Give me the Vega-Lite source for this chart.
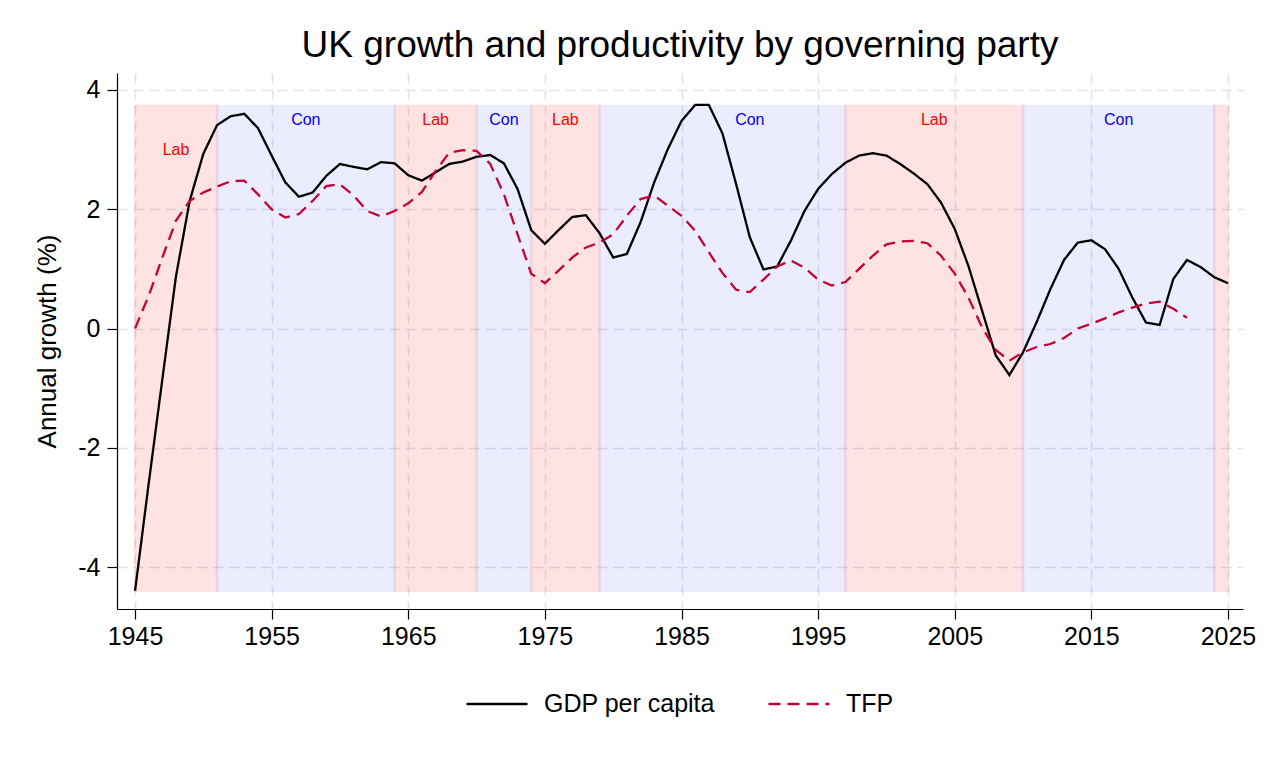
{
  "$schema": "https://vega.github.io/schema/vega-lite/v6.json",
  "width": 1126,
  "height": 536,
  "autosize": {"type": "none"},
  "padding": {"left": 117, "top": 73, "right": 28, "bottom": 153},
  "title": {
    "text": "UK growth and productivity by governing party",
    "fontSize": 37,
    "fontWeight": "normal",
    "color": "black",
    "offset": 8
  },
  "datasets": {
    "periods": [
      {"start": 1945, "end": 1951, "party": "Lab"},
      {"start": 1951, "end": 1964, "party": "Con"},
      {"start": 1964, "end": 1970, "party": "Lab"},
      {"start": 1970, "end": 1974, "party": "Con"},
      {"start": 1974, "end": 1979, "party": "Lab"},
      {"start": 1979, "end": 1997, "party": "Con"},
      {"start": 1997, "end": 2010, "party": "Lab"},
      {"start": 2010, "end": 2024, "party": "Con"},
      {"start": 2024, "end": 2025, "party": "Lab"}
    ],
    "labels": [
      {"year": 1948, "value": 3.0, "party": "Lab"},
      {"year": 1957.5, "value": 3.5, "party": "Con"},
      {"year": 1967, "value": 3.5, "party": "Lab"},
      {"year": 1972, "value": 3.5, "party": "Con"},
      {"year": 1976.5, "value": 3.5, "party": "Lab"},
      {"year": 1990, "value": 3.5, "party": "Con"},
      {"year": 2003.5, "value": 3.5, "party": "Lab"},
      {"year": 2017, "value": 3.5, "party": "Con"}
    ],
    "growth": [
      {"year": 1945, "series": "GDP per capita", "growth": -4.4},
      {"year": 1946, "series": "GDP per capita", "growth": -2.6},
      {"year": 1947, "series": "GDP per capita", "growth": -0.85},
      {"year": 1948, "series": "GDP per capita", "growth": 0.88},
      {"year": 1949, "series": "GDP per capita", "growth": 2.14},
      {"year": 1950, "series": "GDP per capita", "growth": 2.93},
      {"year": 1951, "series": "GDP per capita", "growth": 3.41},
      {"year": 1952, "series": "GDP per capita", "growth": 3.56},
      {"year": 1953, "series": "GDP per capita", "growth": 3.6},
      {"year": 1954, "series": "GDP per capita", "growth": 3.36},
      {"year": 1955, "series": "GDP per capita", "growth": 2.9},
      {"year": 1956, "series": "GDP per capita", "growth": 2.45},
      {"year": 1957, "series": "GDP per capita", "growth": 2.21},
      {"year": 1958, "series": "GDP per capita", "growth": 2.28},
      {"year": 1959, "series": "GDP per capita", "growth": 2.56},
      {"year": 1960, "series": "GDP per capita", "growth": 2.76},
      {"year": 1961, "series": "GDP per capita", "growth": 2.71},
      {"year": 1962, "series": "GDP per capita", "growth": 2.67},
      {"year": 1963, "series": "GDP per capita", "growth": 2.79},
      {"year": 1964, "series": "GDP per capita", "growth": 2.77},
      {"year": 1965, "series": "GDP per capita", "growth": 2.57},
      {"year": 1966, "series": "GDP per capita", "growth": 2.48},
      {"year": 1967, "series": "GDP per capita", "growth": 2.62},
      {"year": 1968, "series": "GDP per capita", "growth": 2.76},
      {"year": 1969, "series": "GDP per capita", "growth": 2.8},
      {"year": 1970, "series": "GDP per capita", "growth": 2.88},
      {"year": 1971, "series": "GDP per capita", "growth": 2.91},
      {"year": 1972, "series": "GDP per capita", "growth": 2.77},
      {"year": 1973, "series": "GDP per capita", "growth": 2.34},
      {"year": 1974, "series": "GDP per capita", "growth": 1.65},
      {"year": 1975, "series": "GDP per capita", "growth": 1.42},
      {"year": 1976, "series": "GDP per capita", "growth": 1.65},
      {"year": 1977, "series": "GDP per capita", "growth": 1.87},
      {"year": 1978, "series": "GDP per capita", "growth": 1.9},
      {"year": 1979, "series": "GDP per capita", "growth": 1.6},
      {"year": 1980, "series": "GDP per capita", "growth": 1.19},
      {"year": 1981, "series": "GDP per capita", "growth": 1.25},
      {"year": 1982, "series": "GDP per capita", "growth": 1.78},
      {"year": 1983, "series": "GDP per capita", "growth": 2.45},
      {"year": 1984, "series": "GDP per capita", "growth": 3.01},
      {"year": 1985, "series": "GDP per capita", "growth": 3.48},
      {"year": 1986, "series": "GDP per capita", "growth": 3.75},
      {"year": 1987, "series": "GDP per capita", "growth": 3.75},
      {"year": 1988, "series": "GDP per capita", "growth": 3.27},
      {"year": 1989, "series": "GDP per capita", "growth": 2.42},
      {"year": 1990, "series": "GDP per capita", "growth": 1.53},
      {"year": 1991, "series": "GDP per capita", "growth": 0.99},
      {"year": 1992, "series": "GDP per capita", "growth": 1.04},
      {"year": 1993, "series": "GDP per capita", "growth": 1.47},
      {"year": 1994, "series": "GDP per capita", "growth": 1.97},
      {"year": 1995, "series": "GDP per capita", "growth": 2.34},
      {"year": 1996, "series": "GDP per capita", "growth": 2.59},
      {"year": 1997, "series": "GDP per capita", "growth": 2.78},
      {"year": 1998, "series": "GDP per capita", "growth": 2.9},
      {"year": 1999, "series": "GDP per capita", "growth": 2.94},
      {"year": 2000, "series": "GDP per capita", "growth": 2.9},
      {"year": 2001, "series": "GDP per capita", "growth": 2.76},
      {"year": 2002, "series": "GDP per capita", "growth": 2.6},
      {"year": 2003, "series": "GDP per capita", "growth": 2.42},
      {"year": 2004, "series": "GDP per capita", "growth": 2.11},
      {"year": 2005, "series": "GDP per capita", "growth": 1.67},
      {"year": 2006, "series": "GDP per capita", "growth": 1.05},
      {"year": 2007, "series": "GDP per capita", "growth": 0.3},
      {"year": 2008, "series": "GDP per capita", "growth": -0.45},
      {"year": 2009, "series": "GDP per capita", "growth": -0.78},
      {"year": 2010, "series": "GDP per capita", "growth": -0.4},
      {"year": 2011, "series": "GDP per capita", "growth": 0.11},
      {"year": 2012, "series": "GDP per capita", "growth": 0.66},
      {"year": 2013, "series": "GDP per capita", "growth": 1.15},
      {"year": 2014, "series": "GDP per capita", "growth": 1.44},
      {"year": 2015, "series": "GDP per capita", "growth": 1.48},
      {"year": 2016, "series": "GDP per capita", "growth": 1.33},
      {"year": 2017, "series": "GDP per capita", "growth": 1.0},
      {"year": 2018, "series": "GDP per capita", "growth": 0.52},
      {"year": 2019, "series": "GDP per capita", "growth": 0.1},
      {"year": 2020, "series": "GDP per capita", "growth": 0.06},
      {"year": 2021, "series": "GDP per capita", "growth": 0.83},
      {"year": 2022, "series": "GDP per capita", "growth": 1.15},
      {"year": 2023, "series": "GDP per capita", "growth": 1.03},
      {"year": 2024, "series": "GDP per capita", "growth": 0.86},
      {"year": 2025, "series": "GDP per capita", "growth": 0.76},
      {"year": 1945, "series": "TFP", "growth": 0.0},
      {"year": 1946, "series": "TFP", "growth": 0.55},
      {"year": 1947, "series": "TFP", "growth": 1.19},
      {"year": 1948, "series": "TFP", "growth": 1.81},
      {"year": 1949, "series": "TFP", "growth": 2.14},
      {"year": 1950, "series": "TFP", "growth": 2.28},
      {"year": 1951, "series": "TFP", "growth": 2.38},
      {"year": 1952, "series": "TFP", "growth": 2.47},
      {"year": 1953, "series": "TFP", "growth": 2.48},
      {"year": 1954, "series": "TFP", "growth": 2.25},
      {"year": 1955, "series": "TFP", "growth": 2.0},
      {"year": 1956, "series": "TFP", "growth": 1.86},
      {"year": 1957, "series": "TFP", "growth": 1.92},
      {"year": 1958, "series": "TFP", "growth": 2.14},
      {"year": 1959, "series": "TFP", "growth": 2.39},
      {"year": 1960, "series": "TFP", "growth": 2.42},
      {"year": 1961, "series": "TFP", "growth": 2.23},
      {"year": 1962, "series": "TFP", "growth": 1.97},
      {"year": 1963, "series": "TFP", "growth": 1.88},
      {"year": 1964, "series": "TFP", "growth": 1.97},
      {"year": 1965, "series": "TFP", "growth": 2.1},
      {"year": 1966, "series": "TFP", "growth": 2.29},
      {"year": 1967, "series": "TFP", "growth": 2.64},
      {"year": 1968, "series": "TFP", "growth": 2.95},
      {"year": 1969, "series": "TFP", "growth": 2.99},
      {"year": 1970, "series": "TFP", "growth": 2.98},
      {"year": 1971, "series": "TFP", "growth": 2.76},
      {"year": 1972, "series": "TFP", "growth": 2.25},
      {"year": 1973, "series": "TFP", "growth": 1.58},
      {"year": 1974, "series": "TFP", "growth": 0.92},
      {"year": 1975, "series": "TFP", "growth": 0.76},
      {"year": 1976, "series": "TFP", "growth": 0.97},
      {"year": 1977, "series": "TFP", "growth": 1.19},
      {"year": 1978, "series": "TFP", "growth": 1.36},
      {"year": 1979, "series": "TFP", "growth": 1.44},
      {"year": 1980, "series": "TFP", "growth": 1.58},
      {"year": 1981, "series": "TFP", "growth": 1.89},
      {"year": 1982, "series": "TFP", "growth": 2.17},
      {"year": 1983, "series": "TFP", "growth": 2.23},
      {"year": 1984, "series": "TFP", "growth": 2.06},
      {"year": 1985, "series": "TFP", "growth": 1.89},
      {"year": 1986, "series": "TFP", "growth": 1.64},
      {"year": 1987, "series": "TFP", "growth": 1.28},
      {"year": 1988, "series": "TFP", "growth": 0.93},
      {"year": 1989, "series": "TFP", "growth": 0.65},
      {"year": 1990, "series": "TFP", "growth": 0.61},
      {"year": 1991, "series": "TFP", "growth": 0.82},
      {"year": 1992, "series": "TFP", "growth": 1.04},
      {"year": 1993, "series": "TFP", "growth": 1.14},
      {"year": 1994, "series": "TFP", "growth": 1.02},
      {"year": 1995, "series": "TFP", "growth": 0.82},
      {"year": 1996, "series": "TFP", "growth": 0.72},
      {"year": 1997, "series": "TFP", "growth": 0.78},
      {"year": 1998, "series": "TFP", "growth": 1.0},
      {"year": 1999, "series": "TFP", "growth": 1.22},
      {"year": 2000, "series": "TFP", "growth": 1.41},
      {"year": 2001, "series": "TFP", "growth": 1.46},
      {"year": 2002, "series": "TFP", "growth": 1.47},
      {"year": 2003, "series": "TFP", "growth": 1.43},
      {"year": 2004, "series": "TFP", "growth": 1.22},
      {"year": 2005, "series": "TFP", "growth": 0.92},
      {"year": 2006, "series": "TFP", "growth": 0.52},
      {"year": 2007, "series": "TFP", "growth": 0.02},
      {"year": 2008, "series": "TFP", "growth": -0.36},
      {"year": 2009, "series": "TFP", "growth": -0.54},
      {"year": 2010, "series": "TFP", "growth": -0.4},
      {"year": 2011, "series": "TFP", "growth": -0.31},
      {"year": 2012, "series": "TFP", "growth": -0.26},
      {"year": 2013, "series": "TFP", "growth": -0.16},
      {"year": 2014, "series": "TFP", "growth": 0.0},
      {"year": 2015, "series": "TFP", "growth": 0.08},
      {"year": 2016, "series": "TFP", "growth": 0.17},
      {"year": 2017, "series": "TFP", "growth": 0.27},
      {"year": 2018, "series": "TFP", "growth": 0.35},
      {"year": 2019, "series": "TFP", "growth": 0.42},
      {"year": 2020, "series": "TFP", "growth": 0.45},
      {"year": 2021, "series": "TFP", "growth": 0.33},
      {"year": 2022, "series": "TFP", "growth": 0.18}
    ]
  },
  "encoding": {
    "x": {
      "type": "quantitative",
      "scale": {"domain": [1943.68, 2026.1], "nice": false, "zero": false},
      "axis": {
        "title": null,
        "values": [1945, 1955, 1965, 1975, 1985, 1995, 2005, 2015, 2025],
        "format": "d",
        "labelPadding": 5
      }
    },
    "y": {
      "type": "quantitative",
      "scale": {"domain": [-4.704, 4.285], "nice": false, "zero": false},
      "axis": {
        "title": "Annual growth (%)",
        "values": [-4, -2, 0, 2, 4],
        "labelExpr": "datum.value < 0 ? '-' + abs(datum.value) : '' + datum.value",
        "labelPadding": 7,
        "titlePadding": 17
      }
    }
  },
  "layer": [
    {
      "data": {"name": "periods"},
      "mark": {"type": "rect", "strokeWidth": 2.5, "fillOpacity": 1, "strokeOpacity": 1},
      "encoding": {
        "x": {"field": "start", "type": "quantitative"},
        "x2": {"field": "end"},
        "y": {"datum": -4.4},
        "y2": {"datum": 3.73},
        "fill": {
          "field": "party",
          "type": "nominal",
          "scale": {"domain": ["Lab", "Con"], "range": ["#ff0000", "#0000ff"]},
          "legend": null
        },
        "stroke": {
          "field": "party",
          "type": "nominal",
          "scale": {"domain": ["Lab", "Con"], "range": ["#ff0000", "#0000ff"]},
          "legend": null
        },
        "opacity": {
          "field": "party",
          "type": "nominal",
          "scale": {"domain": ["Lab", "Con"], "range": [0.11, 0.07]},
          "legend": null
        }
      }
    },
    {
      "mark": {"type": "rule", "color": "#9999a3", "strokeWidth": 2, "strokeDash": [10, 6]},
      "encoding": {"y": {"datum": 0}}
    },
    {
      "data": {"name": "labels"},
      "mark": {"type": "text", "fontSize": 16, "baseline": "middle", "align": "center"},
      "encoding": {
        "x": {"field": "year", "type": "quantitative"},
        "y": {"field": "value", "type": "quantitative"},
        "text": {"field": "party"},
        "fill": {"field": "party", "type": "nominal", "legend": null}
      }
    },
    {
      "data": {"name": "growth"},
      "mark": {"type": "line", "strokeWidth": 2.3},
      "encoding": {
        "x": {"field": "year", "type": "quantitative"},
        "y": {"field": "growth", "type": "quantitative"},
        "color": {
          "field": "series",
          "type": "nominal",
          "scale": {"domain": ["GDP per capita", "TFP"], "range": ["#000000", "#c10534"]},
          "legend": {
            "orient": "none",
            "legendX": 348,
            "legendY": 599,
            "direction": "horizontal",
            "title": null,
            "symbolType": "stroke",
            "symbolSize": 3721,
            "symbolStrokeWidth": 2.3,
            "labelFontSize": 25,
            "labelColor": "black",
            "labelLimit": 0,
            "labelOffset": 15,
            "columnPadding": 48
          }
        },
        "strokeDash": {
          "field": "series",
          "type": "nominal",
          "scale": {"domain": ["GDP per capita", "TFP"], "range": [[1, 0], [12, 7]]}
        }
      }
    }
  ],
  "config": {
    "font": "Liberation Sans",
    "view": {"stroke": null},
    "axis": {
      "grid": true,
      "gridColor": "#e2e2e6",
      "gridWidth": 1.5,
      "gridDash": [10, 6],
      "domainColor": "black",
      "domainWidth": 1.2,
      "tickColor": "black",
      "tickWidth": 1.2,
      "tickSize": 10,
      "labelFontSize": 25,
      "labelColor": "black",
      "titleFontSize": 26,
      "titleFontWeight": "normal",
      "titleColor": "black"
    }
  }
}
